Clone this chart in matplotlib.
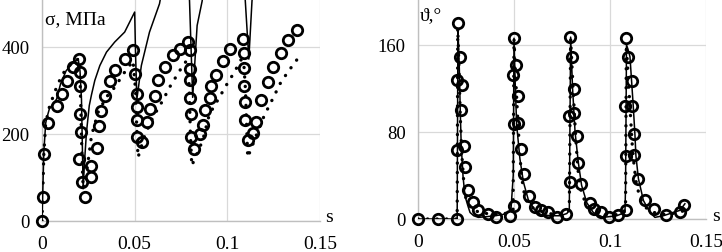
import matplotlib
matplotlib.use("Agg")
import matplotlib.pyplot as plt

plt.rcParams['font.family'] = ['Liberation Serif', 'DejaVu Serif']

# ---------------- Left panel: stress sigma (MPa) vs s ----------------
sig_circ_x = [0, 0.0007, 0.001, 0.003, 0.008, 0.0106, 0.0136, 0.0168, 0.020, 0.0204,
              0.0204, 0.0204, 0.0211, 0.0200, 0.0217, 0.0231, 0.0262, 0.0267, 0.0297,
              0.0306, 0.0321, 0.034, 0.0366, 0.0396, 0.045, 0.0493, 0.050, 0.0512,
              0.0511, 0.0511, 0.0514, 0.0541, 0.0568, 0.0584, 0.0611, 0.0625, 0.0661,
              0.0706, 0.0747, 0.0787, 0.0796, 0.0796, 0.0796, 0.0801, 0.0805, 0.0805,
              0.0819, 0.0853, 0.0871, 0.0882, 0.0907, 0.0914, 0.0939, 0.0978, 0.1016,
              0.1082, 0.1091, 0.1088, 0.1088, 0.1095, 0.1097, 0.111, 0.1136, 0.1154,
              0.1181, 0.1217, 0.1247, 0.1289, 0.133, 0.1378]
sig_circ_y = [0, 56, 154, 225, 265, 292, 322, 353, 372, 342,
              310, 246, 205, 142, 90, 54, 100, 127, 167,
              219, 252, 288, 322, 348, 372, 393, 338, 292,
              261, 231, 192, 181, 227, 258, 288, 323, 354,
              382, 396, 412, 392, 350, 323, 282, 246, 192,
              166, 200, 221, 254, 282, 309, 336, 368, 395,
              417, 386, 351, 310, 273, 231, 185, 202, 227,
              277, 319, 353, 386, 415, 438]

sig_solid_x = [0, 0.0005, 0.001, 0.002, 0.0025, 0.004, 0.0079, 0.010, 0.013, 0.016, 0.0195,
               0.0205, 0.0213, 0.0222, 0.023, 0.024, 0.0255, 0.0267, 0.0285, 0.0312, 0.0348,
               0.0392, 0.0446, 0.050, 0.0505, 0.0512, 0.0536, 0.058, 0.0634, 0.066,
               0.0790, 0.0796, 0.0813, 0.0837, 0.0864, 0.088,
               0.1090, 0.1097, 0.1116, 0.1133, 0.1145]
sig_solid_y = [0, 80, 160, 225, 235, 258, 280, 315, 345, 360, 373,
               345, 280, 74, 140, 204, 265, 290, 323, 357, 388,
               411, 434, 480, 380, 280, 357, 434, 499, 560,
               560, 505, 284, 449, 505, 560,
               560, 505, 372, 505, 560]

sig_dot_x = [0, 0.0005, 0.001, 0.002, 0.004, 0.007, 0.010, 0.013, 0.016, 0.0195,
             0.0205, 0.021, 0.0215, 0.0222, 0.024, 0.0258, 0.0267, 0.0303, 0.0348,
             0.0392, 0.0446, 0.0491, 0.0505, 0.051, 0.0518, 0.0554, 0.0598, 0.0652,
             0.0688, 0.076, 0.0787, 0.0795, 0.080, 0.0808, 0.0867, 0.0903, 0.0957,
             0.0993, 0.1038, 0.1073, 0.1088, 0.1098, 0.1104, 0.111, 0.1163, 0.1199,
             0.1244, 0.1289, 0.1333, 0.1378, 0.139]
sig_dot_y = [0, 80, 155, 225, 262, 298, 328, 350, 362, 372,
             330, 250, 160, 74, 110, 166, 196, 250, 285,
             307, 342, 368, 300, 230, 146, 196, 238, 277,
             307, 357, 372, 300, 210, 127, 185, 245, 284,
             311, 342, 370, 368, 300, 220, 146, 204, 242,
             280, 319, 346, 372, 374]

# ---------------- Right panel: angle theta (deg) vs s ----------------
th_circ_x = [0, 0.0103, 0.0203, 0.0203, 0.0201, 0.0207, 0.022, 0.0228, 0.0224, 0.0238,
             0.0246, 0.0259, 0.0285, 0.0314, 0.0363, 0.0406, 0.0479, 0.0498, 0.0493,
             0.0502, 0.051, 0.0522, 0.0502, 0.0522, 0.0536, 0.055, 0.058, 0.0609,
             0.0641, 0.0679, 0.0724, 0.0771, 0.0793, 0.0788, 0.0793, 0.080, 0.0814,
             0.0814, 0.0828, 0.0832, 0.0849, 0.0897, 0.0918, 0.0953, 0.0996, 0.104,
             0.1083, 0.1083, 0.1078, 0.1083, 0.1092, 0.1113, 0.1113, 0.1123, 0.1123,
             0.1144, 0.1182, 0.1228, 0.1292, 0.1366, 0.1384]
th_circ_y = [0, 0, 0, 63, 128, 180, 149, 123, 100, 67,
             48, 27, 16, 8, 5, 2, 3, 12, 132,
             166, 141, 113, 87, 88, 64, 41, 21, 11,
             8, 6, 2, 5, 34, 95, 167, 149, 119,
             97, 76, 51, 32, 15, 9, 6, 2, 4,
             8, 58, 104, 166, 149, 127, 104, 78, 59,
             37, 17, 9, 4, 6, 13]

th_solid_x = [0, 0.0204, 0.0206, 0.0208, 0.0215, 0.022, 0.0225, 0.0235, 0.0245, 0.026,
              0.0271, 0.029, 0.0314, 0.035, 0.040, 0.044, 0.047, 0.0484, 0.0496,
              0.050, 0.0507, 0.0514, 0.0531, 0.0549, 0.0574, 0.0609, 0.064, 0.069,
              0.074, 0.0775, 0.0788, 0.0795, 0.0805, 0.0818, 0.0835, 0.0852, 0.0879,
              0.0913, 0.0965, 0.1035, 0.1078, 0.1081, 0.1086, 0.1095, 0.1104, 0.1121,
              0.113, 0.1135, 0.1148, 0.1174, 0.1208, 0.1234, 0.1278, 0.133, 0.1365,
              0.139]
th_solid_y = [0, 0, 90, 175, 140, 100, 68, 38, 21, 12,
              6, 3, 1.5, 2, 3, 4, 6, 8, 40,
              166, 120, 86, 55, 34, 18, 8, 4, 3,
              3, 5, 8, 167, 120, 80, 52, 31, 15,
              6, 1.5, 3, 6, 30, 160, 155, 149, 104,
              77, 58, 37, 17, 6, 1.5, 3, 6, 8,
              14]

th_dot_x = [0, 0.0204, 0.0207, 0.0215, 0.022, 0.0228, 0.0238, 0.025, 0.027, 0.0285,
            0.032, 0.036, 0.041, 0.045, 0.048, 0.0495, 0.050, 0.051, 0.052, 0.053,
            0.054, 0.0555, 0.057, 0.060, 0.064, 0.068, 0.073, 0.077, 0.0788, 0.0795,
            0.0805, 0.0815, 0.0825, 0.0835, 0.085, 0.087, 0.090, 0.094, 0.099, 0.104,
            0.107, 0.1081, 0.1085, 0.1095, 0.1105, 0.1115, 0.1125, 0.1135, 0.1148,
            0.1165, 0.119, 0.123, 0.127, 0.132, 0.136, 0.139]
th_dot_y = [0, 0, 175, 130, 95, 60, 35, 18, 12, 9,
            6, 5, 4, 5, 6, 8, 165, 125, 90, 60,
            38, 22, 15, 10, 7, 5, 4, 5, 8, 165,
            130, 95, 65, 42, 25, 16, 10, 6, 4, 4,
            6, 10, 160, 130, 100, 70, 50, 35, 25,
            16, 10, 6, 4, 5, 6, 8]

x_ticks = [0, 0.05, 0.1, 0.15]
x_tick_labels = ['0', '0.05', '0.1', '0.15']
sig_ticks = [0, 200, 400]
th_ticks = [0, 80, 160]

fig = plt.figure(figsize=(7.22, 2.53), dpi=100)
ax1 = fig.add_axes([42 / 722, 31 / 253, 278 / 722, 222 / 253])
ax2 = fig.add_axes([418 / 722, 33 / 253, 288 / 722, 220 / 253])

dot_style = dict(color='black', linewidth=2.4, linestyle=(0, (0.05, 2.8)),
                 dash_capstyle='round', zorder=3)
circ_style = dict(linestyle='none', marker='o', markersize=7.5, markerfacecolor='none',
                  markeredgecolor='black', markeredgewidth=2.0, zorder=4)
solid_style = dict(color='black', linewidth=1.1, zorder=3)

ax1.plot(sig_dot_x, sig_dot_y, **dot_style)
ax1.plot(sig_solid_x, sig_solid_y, **solid_style)
ax1.plot(sig_circ_x, sig_circ_y, clip_on=False, **circ_style)

ax2.plot(th_dot_x, th_dot_y, **dot_style)
ax2.plot(th_solid_x, th_solid_y, **solid_style)
ax2.plot(th_circ_x, th_circ_y, clip_on=False, **circ_style)

for ax, yt, ytop in [(ax1, sig_ticks, 510), (ax2, th_ticks, 202)]:
    ax.set_xlim(0, 0.15)
    ax.set_ylim(0, ytop)
    ax.set_xticks(x_ticks)
    ax.set_xticklabels(x_tick_labels)
    ax.set_yticks(yt)
    ax.grid(True, color='#d9d9d9', linewidth=0.9)
    ax.set_axisbelow(True)
    for sp in ['top', 'right']:
        ax.spines[sp].set_visible(False)
    for sp in ['left', 'bottom']:
        ax.spines[sp].set_color('#bfbfbf')
        ax.spines[sp].set_linewidth(1.0)
    ax.tick_params(axis='x', length=0, labelsize=14, pad=10, colors='black')
    ax.tick_params(axis='y', length=0, labelsize=13.5, pad=9, colors='black')
    ax.set_facecolor('none')

ax1.text(0.011, 0.91, 'σ, МПа', transform=ax1.transAxes, fontsize=14, ha='left', va='center')
ax1.text(1.02, 0.02, 's', transform=ax1.transAxes, fontsize=14, ha='left', va='center')
ax2.text(0.005, 0.93, 'ϑ,°', transform=ax2.transAxes, fontsize=14, ha='left', va='center')
ax2.text(1.02, 0.015, 's', transform=ax2.transAxes, fontsize=14, ha='left', va='center')

fig.savefig('out.png', dpi=100)
